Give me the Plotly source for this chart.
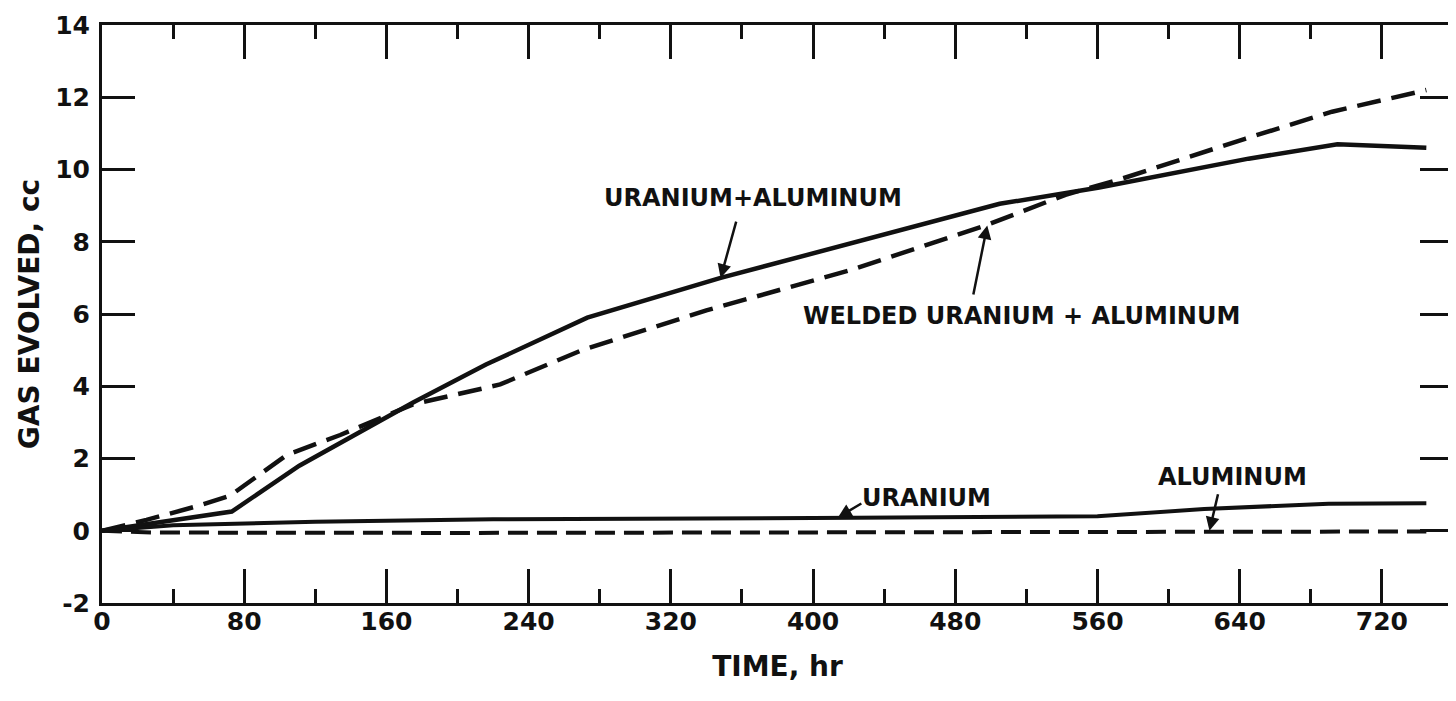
import plotly.graph_objects as go

# ---- data ----
welded_t = [0, 25, 55, 72, 104, 134, 175, 224, 270, 340, 420, 497, 542, 574, 643, 692, 745]
welded_v = [0, 0.3, 0.7, 0.97, 2.1, 2.65, 3.5, 4.05, 5.0, 6.1, 7.2, 8.45, 9.3, 9.75, 10.85, 11.6, 12.2]

ual_t = [0, 25, 73, 111, 175, 216, 252, 273, 348, 420, 505, 561, 645, 695, 745]
ual_v = [0, 0.18, 0.53, 1.8, 3.55, 4.6, 5.4, 5.9, 7.0, 7.95, 9.05, 9.5, 10.3, 10.7, 10.6]

u_t = [0, 40, 120, 220, 400, 560, 620, 690, 745]
u_v = [0, 0.15, 0.25, 0.32, 0.35, 0.4, 0.6, 0.75, 0.76]

al_t = [0, 30, 200, 400, 600, 745]
al_v = [0, -0.05, -0.06, -0.05, -0.03, -0.02]

x_ticks = [0, 80, 160, 240, 320, 400, 480, 560, 640, 720]
y_ticks = [-2, 0, 2, 4, 6, 8, 10, 12, 14]

INK = "#111111"
FONT = "DejaVu Sans"

fig = go.Figure()
fig.add_trace(go.Scatter(x=welded_t, y=welded_v, mode="lines",
                         line=dict(color=INK, width=4.5, dash="24px,11px")))
fig.add_trace(go.Scatter(x=ual_t, y=ual_v, mode="lines",
                         line=dict(color=INK, width=4.5)))
fig.add_trace(go.Scatter(x=u_t, y=u_v, mode="lines",
                         line=dict(color=INK, width=4)))
fig.add_trace(go.Scatter(x=al_t, y=al_v, mode="lines",
                         line=dict(color=INK, width=4, dash="20px,9px")))

lab_font = dict(family=FONT, size=24, color=INK, weight=700)

annos = []
# text labels
annos.append(dict(x=366, y=9.2, text="URANIUM+ALUMINUM", showarrow=False, font=lab_font))
annos.append(dict(x=517, y=5.95, text="WELDED URANIUM + ALUMINUM", showarrow=False, font=lab_font))
annos.append(dict(x=464, y=0.92, text="URANIUM", showarrow=False, font=lab_font))
annos.append(dict(x=636, y=1.5, text="ALUMINUM", showarrow=False, font=lab_font))
# arrows
arrow = dict(text="", showarrow=True, arrowhead=2, arrowsize=1.1, arrowwidth=2.5,
             arrowcolor=INK, axref="x", ayref="y")
annos.append(dict(x=348, y=7.0, ax=357, ay=8.6, **arrow))
annos.append(dict(x=498, y=8.45, ax=490, ay=6.5, **arrow))
annos.append(dict(x=414, y=0.37, ax=428, ay=0.78, **arrow))
annos.append(dict(x=623, y=0.0, ax=628, ay=1.05, **arrow))

fig.update_layout(
    width=1448, height=693,
    margin=dict(l=94, r=3, t=17, b=98),
    paper_bgcolor="white", plot_bgcolor="white",
    showlegend=False,
    annotations=annos,
    xaxis=dict(
        range=[0, 760], tickvals=x_ticks, ticktext=[str(v) for v in x_ticks],
        ticks="inside", ticklen=34, tickwidth=2.5, tickcolor=INK,
        showline=True, linewidth=3, linecolor=INK, mirror="allticks",
        showgrid=False, zeroline=False, automargin=False,
        minor=dict(tickvals=[40, 120, 200, 280, 360, 440, 520, 600, 680],
                   ticks="inside", ticklen=14, tickwidth=2.5, tickcolor=INK, showgrid=False),
        tickfont=dict(family=FONT, size=25, color=INK, weight=700),
        ticklabelstandoff=-6,
        title=dict(text="TIME, hr", font=dict(family=FONT, size=28, color=INK, weight=700),
                   standoff=22),
    ),
    yaxis=dict(
        range=[-2, 14], tickvals=y_ticks, ticktext=[str(v) for v in y_ticks],
        ticks="inside", ticklen=33, tickwidth=2.5, tickcolor=INK,
        showline=True, linewidth=3, linecolor=INK, mirror="allticks",
        showgrid=False, zeroline=False, automargin=False,
        tickfont=dict(family=FONT, size=25, color=INK, weight=700),
        ticklabelstandoff=4,
        title=dict(text="GAS EVOLVED, cc", font=dict(family=FONT, size=28, color=INK, weight=700),
                   standoff=8),
    ),
)

fig.write_html("out.html")
